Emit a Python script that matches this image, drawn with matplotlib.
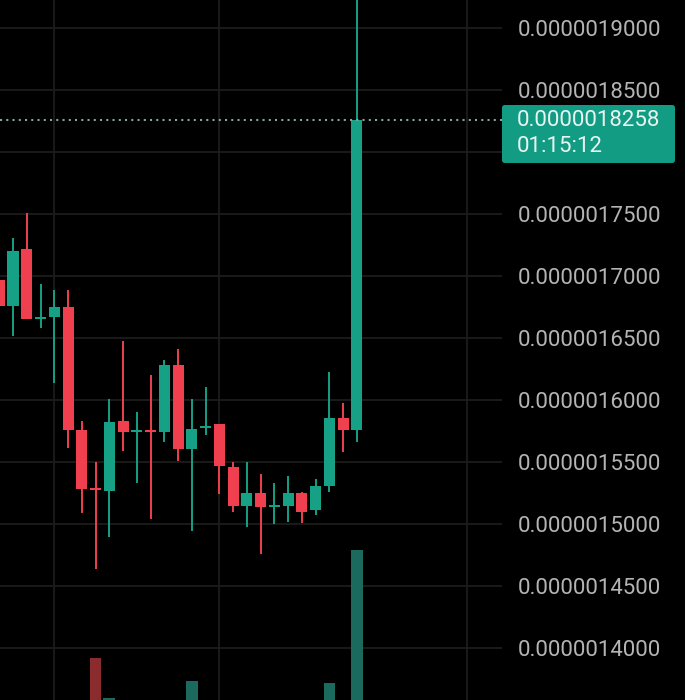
import matplotlib
matplotlib.use('Agg')
import matplotlib.pyplot as plt
import matplotlib.transforms as mtransforms
from matplotlib.patches import FancyBboxPatch

# prices in units of 1e-8
opens = [169.7, 167.6, 172.2, 166.55, 166.7, 167.5, 157.6, 152.8, 152.7, 158.3, 157.42, 157.5, 157.4,
         162.8, 156.05, 157.74, 158.06, 154.6, 151.45, 152.5, 151.37, 151.45, 152.5, 151.13, 153.06, 158.55, 157.58]
closes = [167.6, 172.0, 166.5, 166.6, 167.5, 157.6, 152.8, 152.74, 158.2, 157.4, 157.5, 157.42, 162.8,
          156.05, 157.66, 157.82, 154.68, 151.45, 152.5, 151.37, 151.45, 152.5, 150.97, 153.06, 158.55, 157.58, 182.58]
highs = [170.0, 173.1, 175.1, 169.35, 168.9, 168.9, 158.3, 155.0, 160.1, 164.8, 159.0, 162.0, 163.2,
         164.1, 160.1, 161.05, 158.06, 155.0, 155.0, 154.0, 153.3, 153.9, 152.6, 153.6, 162.3, 159.8, 193.0]
lows = [163.5, 165.2, 166.5, 165.8, 161.4, 156.1, 150.9, 146.4, 148.95, 155.9, 153.3, 150.4, 156.6,
        155.1, 149.4, 157.2, 152.4, 150.97, 149.8, 147.6, 150.0, 150.2, 150.1, 150.7, 152.6, 155.8, 156.6]
volumes = [1.2, 1.5, 1.6, 0.8, 1.0, 1.8, 1.7, 6.2, 2.2, 1.1, 0.7, 1.3, 1.4,
           1.6, 3.9, 0.9, 1.2, 1.0, 0.9, 1.1, 0.6, 0.8, 0.7, 1.0, 3.7, 1.5, 17.0]
price_levels = [140, 145, 150, 155, 160, 165, 170, 175, 180, 185, 190]
last_price = 182.58
countdown = '01:15:12'

GREEN = '#16a086'
RED = '#f0404f'
VOL_GREEN = '#1c6a5d'
VOL_RED = '#8a2b2d'
GRID = '#1c1c1c'
TXT = '#b4b4b4'

fig = plt.figure(figsize=(6.85, 7.0), dpi=100, facecolor='black')
ax = fig.add_axes([0, 0, 502 / 685, 1])
ax.set_facecolor('black')
vax = ax.twinx()
ax.set_zorder(vax.get_zorder() + 1)
ax.patch.set_visible(False)
vax.set_facecolor('black')

ax.set_xlim(0.055, 36.54)
ax.set_ylim(135.81, 192.26)

# grid (on the volume axes so it stays behind the volume bars)
trans_h = mtransforms.blended_transform_factory(vax.transAxes, ax.transData)
trans_v = mtransforms.blended_transform_factory(ax.transData, vax.transAxes)
for lv in price_levels:
    vax.plot([0, 1], [lv, lv], color=GRID, lw=1.3, transform=trans_h, zorder=0)
for gx in [4, 16, 34]:
    vax.plot([gx, gx], [0, 1], color=GRID, lw=1.3, transform=trans_v, zorder=0)

# candles
for i in range(len(opens)):
    o, c, h, l = opens[i], closes[i], highs[i], lows[i]
    col = GREEN if c >= o else RED
    ax.vlines(i, l, h, color=col, lw=1.4, zorder=2)
    hgt = max(abs(c - o), 0.16)
    ax.bar(i, hgt, bottom=min(o, c), width=0.8, color=col, zorder=3)

# volume
vcols = [VOL_GREEN if closes[i] >= opens[i] else VOL_RED for i in range(len(opens))]
vax.bar(range(len(volumes)), volumes, width=0.86, color=vcols, zorder=1)
vax.set_ylim(2.0, 72.0)
vax.set_xticks([])
vax.set_yticks([])
for s in vax.spines.values():
    s.set_visible(False)

# last price line
ax.axhline(last_price, color='#7fa99c', lw=1.5, ls=(0, (1, 2)), zorder=4)

for s in ax.spines.values():
    s.set_visible(False)
ax.set_xticks([])
ax.yaxis.tick_right()
ticks = [lv for lv in price_levels if lv != 180]
ax.set_yticks(ticks)
ax.set_yticklabels([f'{lv * 1e-8:.10f}' for lv in ticks])
ax.tick_params(axis='y', length=0, pad=11.5, labelsize=16, labelcolor=TXT)
for t in ax.get_yticklabels():
    t.set_fontfamily('Roboto')

# price label box
W, H = 685, 700
box = FancyBboxPatch((502 / W, (H - 163) / H), 173 / W, 58 / H,
                     boxstyle='round,pad=0,rounding_size=0.004',
                     transform=fig.transFigure, facecolor='#139c84', edgecolor='none')
fig.patches.append(box)
fig.text(517 / W, (H - 120) / H, f'{last_price * 1e-8:.10f}', color='#e8f6f1',
         fontsize=16, family='Roboto', va='center', ha='left')
fig.text(517 / W, (H - 147) / H, countdown, color='#e8f6f1',
         fontsize=16, family='Roboto', va='center', ha='left')

plt.savefig('out.png', dpi=100, facecolor='black')
